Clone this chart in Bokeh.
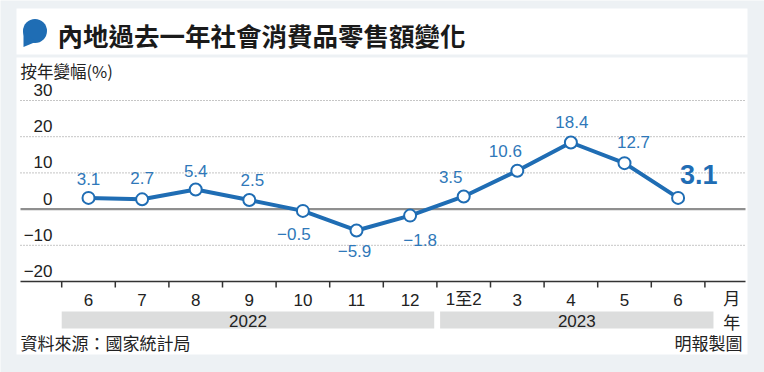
from bokeh.plotting import figure
from bokeh.models import Range1d, ColumnDataSource
from bokeh.core.properties import value
from bokeh.embed import file_html
from bokeh.resources import INLINE

# ---------------- data ----------------
months = ["6", "7", "8", "9", "10", "11", "12", "1至2", "3", "4", "5", "6"]
growth = [3.1, 2.7, 5.4, 2.5, -0.5, -5.9, -1.8, 3.5, 10.6, 18.4, 12.7, 3.1]
value_labels = ["3.1", "2.7", "5.4", "2.5", "−0.5", "−5.9", "−1.8", "3.5", "10.6", "18.4", "12.7", "3.1"]
years = ["2022", "2023"]
year_first = [0, 7]
year_last = [6, 11]
y_ticks = [30, 20, 10, 0, -10, -20]
y_tick_labels = ["30", "20", "10", "0", "−10", "−20"]
title_text = "內地過去一年社會消費品零售額變化"
y_title = "按年變幅(%)"
x_unit = "月"
year_unit = "年"
source_text = "資料來源：國家統計局"
credit_text = "明報製圖"

# ---------------- style / layout ----------------
W, H = 764, 372
OFF = 0
X0, DXP = 88.0, 53.6      # pixel of index 0, pixels per category
Y0, DYP = 208.6, 3.62     # pixel of value 0, pixels per unit

def px(xref):
    return (xref - X0) / DXP

def py(yref):
    return (Y0 - yref) / DYP

BG = "#edf1f4"
BLUE = "#1f6db4"
LBLUE = "#2f78b9"
TXT = "#222222"
CJK = value("Noto Sans CJK TC")
LAT = value("Liberation Sans, Noto Sans CJK TC")

# label offsets in pixels (dx right, dy down)
label_dx = [0, 0, 0, 3, -9, -2, 10, -13, -12, 1, 9]
label_dy = [-19, -21, -19, -20, 23, 21, 24, -19, -20, -20, -21]

p = figure(width=W, height=H, output_backend="svg", toolbar_location=None,
           title=None,
           x_range=Range1d(px(OFF), px(OFF + W)),
           y_range=Range1d(py(OFF + H), py(OFF)),
           min_border=0, min_border_left=0, min_border_right=0,
           min_border_top=0, min_border_bottom=0)
p.xaxis.visible = False
p.yaxis.visible = False
p.grid.visible = False
p.outline_line_color = None
p.background_fill_color = BG
p.border_fill_color = BG

# white panels
p.quad(left=[px(16), px(16)], right=[px(747), px(747)],
       top=[py(8), py(57)], bottom=[py(54), py(354)],
       fill_color="white", line_color=None)

# title icon (speech bubble)
p.scatter(x=[px(34.5)], y=[py(30.5)], size=24, marker="circle",
          fill_color=BLUE, line_color=None)
p.patch(x=[px(23), px(23), px(35)], y=[py(30), py(46.5), py(41.5)],
        fill_color=BLUE, line_color=None)

p.text(x=[px(57)], y=[py(34)], text=[title_text], text_font=CJK,
       text_font_style="bold", text_font_size="25.5px", text_color="#1a1a1a",
       text_align="left", text_baseline="middle")

p.text(x=[px(20)], y=[py(70)], text=[y_title], text_font=CJK,
       text_font_size="16.5px", text_color=TXT,
       text_align="left", text_baseline="middle")

# grid lines
grid_vals = [t for t in y_ticks if t not in (0, y_ticks[-1])]
p.segment(x0=[px(20)] * len(grid_vals), x1=[px(745)] * len(grid_vals),
          y0=grid_vals, y1=grid_vals, line_color="#8c8c8c",
          line_width=1, line_dash="1 2")
p.segment(x0=[px(20)], x1=[px(745)], y0=[0], y1=[0],
          line_color="#8f8f8f", line_width=2.2)
p.segment(x0=[px(20)], x1=[px(745)], y0=[y_ticks[-1]], y1=[y_ticks[-1]],
          line_color="#333333", line_width=1.5)

# y tick labels (above their lines)
p.text(x=[px(52)] * len(y_ticks), y=[t + 10.5 / DYP for t in y_ticks],
       text=y_tick_labels, text_font=LAT, text_font_size="17px",
       text_color=TXT, text_align="right", text_baseline="middle")

# x ticks between categories
tick_x = [i - 0.5 for i in range(len(months) + 1)]
p.segment(x0=tick_x, x1=tick_x, y0=[y_ticks[-1]] * len(tick_x),
          y1=[y_ticks[-1] - 6 / DYP] * len(tick_x),
          line_color="#333333", line_width=1.5)

# x labels
xl = months + [x_unit]
p.text(x=list(range(len(xl))), y=[py(299)] * len(xl), text=xl,
       text_font=LAT, text_font_size="17px", text_color=TXT,
       text_align="center", text_baseline="middle")

# year bands
pad_l = [0.0, 0.06]
pad_r = [-0.05, 0.16]
bl = [f - 0.5 + a for f, a in zip(year_first, pad_l)]
br = [l + 0.5 + b for l, b in zip(year_last, pad_r)]
p.quad(left=bl, right=br, top=[py(311)] * 2, bottom=[py(328)] * 2,
       fill_color="#dcdddd", line_color=None)
p.text(x=[(a + b) / 2 for a, b in zip(bl, br)], y=[py(320)] * 2, text=years,
       text_font=LAT, text_font_size="17px", text_color=TXT,
       text_align="center", text_baseline="middle")
p.text(x=[len(months)], y=[py(321)], text=[year_unit], text_font=CJK,
       text_font_size="17px", text_color=TXT, text_align="center",
       text_baseline="middle")

# footer
p.text(x=[px(20)], y=[py(342)], text=[source_text], text_font=CJK,
       text_font_size="17px", text_color=TXT, text_align="left",
       text_baseline="middle")
p.text(x=[px(742)], y=[py(342)], text=[credit_text], text_font=CJK,
       text_font_size="17px", text_color=TXT, text_align="right",
       text_baseline="middle")

# data line
idx = list(range(len(growth)))
src = ColumnDataSource(dict(x=idx, y=growth))
p.line("x", "y", source=src, line_color=BLUE, line_width=4, line_join="round")
p.scatter("x", "y", source=src, size=12, marker="circle", fill_color="white",
          line_color=BLUE, line_width=2)

n = len(growth) - 1
p.text(x=[i + label_dx[i] / DXP for i in range(n)],
       y=[growth[i] - label_dy[i] / DYP for i in range(n)],
       text=value_labels[:n], text_font=LAT, text_font_size="17px",
       text_color=LBLUE, text_align="center", text_baseline="middle")
p.text(x=[n + 2 / DXP], y=[growth[n] + 23 / DYP], text=[value_labels[n]],
       text_font=LAT, text_font_style="bold", text_font_size="27px",
       text_color=BLUE, text_align="left", text_baseline="middle")

open("out.html", "w").write(file_html(p, INLINE))
